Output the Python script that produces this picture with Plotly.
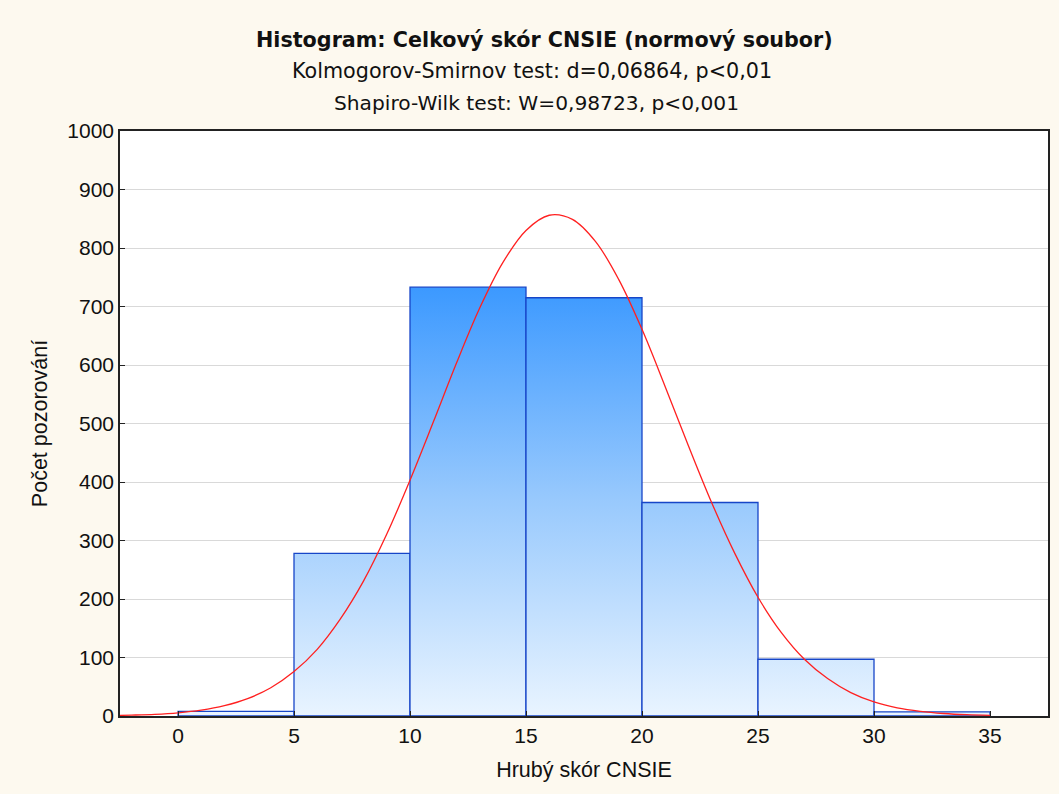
import plotly.graph_objects as go

# ---- data ----
bin_edges = [0, 5, 10, 15, 20, 25, 30, 35]
counts = [8, 278, 733, 715, 365, 97, 7]

curve_x = [-2.5, -2, -1, 0, 1, 2, 3, 4, 5, 6, 7, 8, 9, 10, 11, 12, 13, 14, 15, 16, 17,
           18, 19, 20, 21, 22, 23, 24, 25, 26, 27, 28, 29, 30, 31, 32, 33, 34, 35]
curve_y = [1.0, 1.5, 2.9, 5.5, 10, 17.6, 29.7, 48.3, 76, 114, 166, 231, 311, 403, 502, 603,
           697, 775, 830, 856, 849, 811, 746, 661, 563, 462, 365, 278, 203, 143, 97, 64,
           40, 24, 14, 8, 4.3, 2.2, 1.1]

x_ticks = [0, 5, 10, 15, 20, 25, 30, 35]
y_ticks = [0, 100, 200, 300, 400, 500, 600, 700, 800, 900, 1000]

title_text = "Histogram: Celkový skór CNSIE (normový soubor)"
sub1 = "Kolmogorov-Smirnov test: d=0,06864, p<0,01"
sub2 = "Shapiro-Wilk test: W=0,98723, p<0,001"
x_title = "Hrubý skór CNSIE"
y_title = "Počet pozorování"

FONT = "Liberation Sans"
TFONT = "DejaVu Sans"

fig = go.Figure()

for i, c in enumerate(counts):
    x0, x1 = bin_edges[i], bin_edges[i + 1]
    fig.add_trace(go.Scatter(
        x=[x0, x0, x1, x1, x0], y=[0, c, c, 0, 0],
        mode="lines", fill="toself",
        fillgradient=dict(type="vertical",
                          colorscale=[[0, "#e9f4ff"], [0.5, "#98c9fd"], [1, "#3a98ff"]],
                          start=0, stop=740),
        line=dict(color="#1746c8", width=1.3),
        hoverinfo="skip", showlegend=False,
    ))

fig.add_trace(go.Scatter(
    x=curve_x, y=curve_y, mode="lines", line_shape="spline",
    line=dict(color="#ff2020", width=1.3), showlegend=False,
))

# header centred on the image rather than on the plot area
def px_to_paper(px, left=120, width=930):
    return (px - left) / width

fig.update_layout(
    width=1059, height=794,
    paper_bgcolor="#fdf9ef", plot_bgcolor="#ffffff",
    margin=dict(l=120, r=9, t=131, b=78),
    font=dict(family=FONT, color="#111111", size=21),
    showlegend=False,
    annotations=[
        dict(text="<b>" + title_text + "</b>", xref="paper", yref="paper",
             x=px_to_paper(545), y=1, yanchor="middle", yshift=91, showarrow=False,
             font=dict(size=20.7, family=TFONT)),
        dict(text=sub1, xref="paper", yref="paper", x=px_to_paper(533), y=1,
             yanchor="middle", yshift=60, showarrow=False, font=dict(size=20.7, family=TFONT)),
        dict(text=sub2, xref="paper", yref="paper", x=px_to_paper(537), y=1,
             yanchor="middle", yshift=28, showarrow=False, font=dict(size=20.2, family=TFONT)),
    ],
)

fig.update_xaxes(
    range=[-2.5, 37.5], tickvals=x_ticks, ticktext=[str(v) for v in x_ticks],
    showgrid=False, zeroline=False,
    showline=True, linecolor="#222222", linewidth=1.5, mirror=True,
    ticks="inside", ticklen=5, tickcolor="#222222",
    tickfont=dict(size=21), title=dict(text=x_title, font=dict(size=21.5), standoff=16),
)
fig.update_yaxes(
    range=[0, 1000], tickvals=y_ticks, ticktext=[str(v) for v in y_ticks],
    showgrid=True, gridcolor="#d9d9d9", gridwidth=1, zeroline=False,
    showline=True, linecolor="#222222", linewidth=1.5, mirror=True,
    ticks="inside", ticklen=5, tickcolor="#222222",
    tickfont=dict(size=21), title=dict(text=y_title, font=dict(size=21.5), standoff=14),
)

fig.write_html("out.html", config={"displayModeBar": False},
               post_script="document.body.style.margin='0';document.body.style.overflow='hidden';")
